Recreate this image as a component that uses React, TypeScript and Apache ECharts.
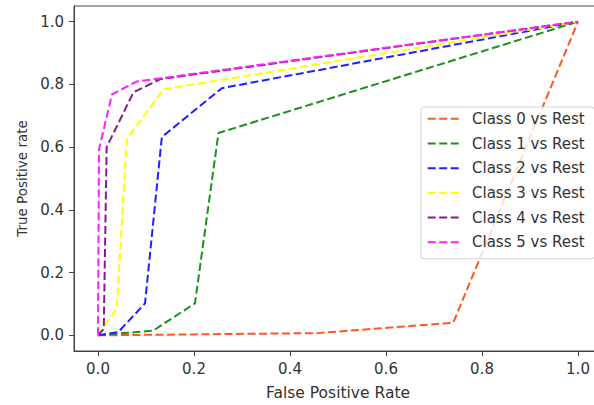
import React, { useEffect, useRef } from "react";
import * as echarts from "echarts";

const classNames = [
  "Class 0 vs Rest",
  "Class 1 vs Rest",
  "Class 2 vs Rest",
  "Class 3 vs Rest",
  "Class 4 vs Rest",
  "Class 5 vs Rest",
];
const classColors = ["#ff5722", "#1f8f1f", "#1f1fff", "#ffff00", "#851d85", "#ff1fff"];

const fpr0 = [0, 0.2, 0.458, 0.74, 1];
const tpr0 = [0, 0.003, 0.007, 0.04, 1];
const fpr1 = [0, 0.115, 0.202, 0.251, 1];
const tpr1 = [0, 0.015, 0.102, 0.645, 1];
const fpr2 = [0, 0.042, 0.098, 0.133, 0.258, 1];
const tpr2 = [0, 0.01, 0.102, 0.632, 0.788, 1];
const fpr3 = [0, 0.039, 0.06, 0.136, 1];
const tpr3 = [0, 0.086, 0.625, 0.784, 1];
const fpr4 = [0, 0.012, 0.018, 0.074, 0.13, 1];
const tpr4 = [0, 0.02, 0.6, 0.775, 0.817, 1];
const fpr5 = [0, 0.002, 0.029, 0.08, 1];
const tpr5 = [0, 0.592, 0.768, 0.809, 1];

const fprs = [fpr0, fpr1, fpr2, fpr3, fpr4, fpr5];
const tprs = [tpr0, tpr1, tpr2, tpr3, tpr4, tpr5];

const xTicks = [0, 0.2, 0.4, 0.6, 0.8, 1.0];
const yTicks = [0, 0.2, 0.4, 0.6, 0.8, 1.0];

const FONT = "DejaVu Sans";
const TEXT = "#333";
const SPINE = "#444";

export default function App() {
  const ref = useRef<HTMLDivElement>(null);
  useEffect(() => {
    document.body.style.margin = "0";
    if (!ref.current) return;
    const chart = echarts.init(ref.current, undefined, { renderer: "svg" });
    const series = classNames.map((name, i) => ({
      name,
      type: "line",
      data: fprs[i].map((x, j) => [x, tprs[i][j]]),
      symbol: "none",
      showSymbol: false,
      lineStyle: { color: classColors[i], width: 2, type: [8, 3.5] },
      itemStyle: { color: classColors[i] },
      silent: true,
    }));
    chart.setOption({
      animation: false,
      backgroundColor: "#fff",
      grid: {
        left: 74,
        top: 6,
        width: 528,
        height: 345,
        outerBoundsMode: "none",
        containLabel: false,
        show: true,
        borderColor: SPINE,
        borderWidth: 1,
        backgroundColor: "transparent",
      },
      xAxis: {
        type: "value",
        min: -0.05,
        max: 1.05,
        name: "False Positive Rate",
        nameLocation: "middle",
        nameGap: 34,
        nameTextStyle: { fontFamily: FONT, fontSize: 15.5, color: TEXT },
        axisLine: { show: true, onZero: false, lineStyle: { color: SPINE, width: 1 } },
        axisTick: {
          show: true,
          length: 5,
          customValues: xTicks,
          lineStyle: { color: SPINE },
        },
        axisLabel: {
          customValues: xTicks,
          formatter: (v: number) => v.toFixed(1),
          fontFamily: FONT,
          fontSize: 15,
          color: TEXT,
          margin: 10,
        },
        splitLine: { show: false },
      },
      yAxis: {
        type: "value",
        min: -0.05,
        max: 1.05,
        name: "True Positive rate",
        nameLocation: "middle",
        nameGap: 43,
        nameTextStyle: { fontFamily: FONT, fontSize: 13.5, color: TEXT },
        axisLine: { show: true, onZero: false, lineStyle: { color: SPINE, width: 1 } },
        axisTick: {
          show: true,
          length: 5,
          customValues: yTicks,
          lineStyle: { color: SPINE },
        },
        axisLabel: {
          customValues: yTicks,
          formatter: (v: number) => v.toFixed(1),
          fontFamily: FONT,
          fontSize: 15,
          color: TEXT,
          margin: 10,
        },
        splitLine: { show: false },
      },
      legend: {
        orient: "vertical",
        left: 421,
        top: 107,
        data: classNames,
        itemWidth: 31.6,
        itemHeight: 14,
        itemGap: 9.7,
        padding: [4.3, 10, 9, 5.7],
        backgroundColor: "rgba(255,255,255,0.8)",
        borderColor: "#d4d4d4",
        borderWidth: 1,
        borderRadius: 3,
        selectedMode: false,
        itemStyle: { opacity: 0 },
        textStyle: {
          fontFamily: FONT,
          fontSize: 15,
          color: TEXT,
          lineHeight: 14,
          padding: [0, 0, 0, 7.7],
        },
      },
      series,
    });
    return () => chart.dispose();
  }, []);
  return <div ref={ref} style={{ width: 594, height: 405 }} />;
}
